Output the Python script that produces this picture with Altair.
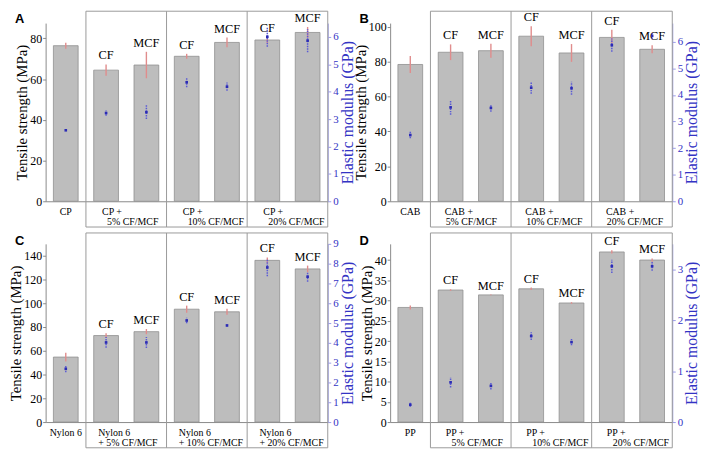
import altair as alt
import pandas as pd

# ---------------- data ----------------
GROUP_EDGES = [0.5, 2.5, 4.5, 6.5]
FIBRES = ["", "CF", "MCF", "CF", "MCF", "CF", "MCF"]

# Panel A (CP)
a_strength = [76.4, 64.4, 66.9, 71.2, 78.0, 79.2, 82.9]
a_strength_err = [1.5, 2.8, 6.5, 1.2, 2.4, 1.5, 2.7]
a_modulus = [2.59, 3.22, 3.25, 4.34, 4.18, 6.0, 5.86]
a_modulus_err = [0.03, 0.1, 0.25, 0.18, 0.15, 0.36, 0.42]
a_base = "CP"
a_line1 = ["CP +", "CP +", "CP +"]
a_line2 = ["5% CF/MCF", "10% CF/MCF", "20% CF/MCF"]

# Panel B (CAB)
b_strength = [78.3, 85.3, 86.2, 94.5, 84.9, 93.8, 87.0]
b_strength_err = [4.9, 4.5, 4.0, 5.7, 5.1, 4.4, 2.3]
b_modulus = [2.49, 3.53, 3.51, 4.27, 4.25, 5.87, 6.22]
b_modulus_err = [0.12, 0.28, 0.14, 0.23, 0.24, 0.25, 0.13]
b_base = "CAB"
b_line1 = ["CAB +", "CAB +", "CAB +"]
b_line2 = ["5% CF/MCF", "10% CF/MCF", "20% CF/MCF"]

# Panel C (Nylon 6)
c_strength = [54.7, 72.8, 76.1, 95.0, 92.8, 136.1, 128.9]
c_strength_err = [3.7, 2.0, 2.2, 3.0, 2.5, 2.5, 2.8]
c_modulus = [2.69, 4.02, 4.02, 5.13, 4.88, 7.81, 7.34]
c_modulus_err = [0.18, 0.27, 0.28, 0.14, 0.05, 0.44, 0.25]
c_base = "Nylon 6"
c_line1 = ["Nylon 6", "Nylon 6", "Nylon 6"]
c_line2 = ["+ 5% CF/MCF", "+ 10% CF/MCF", "+ 20% CF/MCF"]

# Panel D (PP)
d_strength = [28.3, 32.6, 31.4, 32.9, 29.4, 42.0, 40.0]
d_strength_err = [0.5, 0.2, 0.1, 0.3, 0.2, 0.4, 0.4]
d_modulus = [0.34, 0.78, 0.71, 1.69, 1.57, 3.06, 3.06]
d_modulus_err = [0.04, 0.1, 0.07, 0.08, 0.06, 0.13, 0.09]
d_base = "PP"
d_line1 = ["PP +", "PP +", "PP +"]
d_line2 = ["5% CF/MCF", "10% CF/MCF", "20% CF/MCF"]

# ---------------- style ----------------
SERIF = "Liberation Serif"
BAR = "#bdbdbd"
BAR_STROKE = "#8f8f8f"
GRAY = "#8a8a8a"
FRAME = "#9a9a9a"
RED = "#e08c8c"
BLUE_ERR = "#5a5ad6"
BLUE_PT = "#2b2bb5"
BLUE_TXT = "#3333c4"
BLUE_AXIS = "#9c9ce8"

W = 285
H = 180


def panel(letter, s, se, m, me, base, line1, line2, ldom, lticks, rdom, rticks,
          box_top, dx1, dx2):
    h = H
    df = pd.DataFrame({"i": list(range(len(s))), "name": FIBRES, "s": s, "se": se,
                       "m": m, "me": me})
    df["s_lo"] = df["s"] - df["se"]
    df["s_hi"] = df["s"] + df["se"]
    df["m_lo"] = df["m"] - df["me"]
    df["m_hi"] = df["m"] + df["me"]

    xs = alt.Scale(domain=[-0.5, 6.5], nice=False, zero=False, padding=0)
    ly = alt.Scale(domain=ldom, nice=False, zero=True)
    ry = alt.Scale(domain=rdom, nice=False, zero=True)

    x_axis = alt.Axis(labels=False, ticks=False, grid=False, domainColor=GRAY,
                      title=None)
    left_axis = alt.Axis(
        values=lticks, title="Tensile strength (MPa)", titleFont=SERIF,
        titleFontSize=15, titleFontWeight="normal", titleColor="black",
        labelFont=SERIF, labelFontSize=12, labelColor="black", tickColor=GRAY,
        tickSize=3, domainColor=GRAY, grid=False, labelPadding=1, titlePadding=0)
    right_axis = alt.Axis(
        orient="right", values=rticks, format="d", title="Elastic modulus (GPa)",
        titleFont=SERIF, titleFontSize=16, titleFontWeight="normal",
        titleColor=BLUE_TXT, titleAngle=270, titleBaseline="top",
        labelFont=SERIF, labelFontSize=11, labelColor=BLUE_TXT,
        tickColor=BLUE_AXIS, tickSize=3, domainColor=BLUE_AXIS, grid=False,
        labelPadding=2, titlePadding=1)

    def X(f):
        return alt.X(f"{f}:Q", scale=xs, axis=x_axis)

    def YL(f):
        return alt.Y(f"{f}:Q", scale=ly, axis=left_axis)

    def YR(f):
        return alt.Y(f"{f}:Q", scale=ry, axis=right_axis)

    c = alt.Chart(df)
    bars = c.mark_bar(orient="vertical", size=25, fill=BAR, stroke=BAR_STROKE,
                      strokeWidth=0.8).encode(x=X("i"), y=YL("s"))
    rerr = c.mark_rule(color=RED, strokeWidth=1.4).encode(
        x=X("i"), y=YL("s_lo"), y2="s_hi:Q")
    fib = c.transform_filter("datum.i > 0").mark_text(
        baseline="bottom", dy=-2, font=SERIF, fontSize=12.5, color="black").encode(
        x=X("i"), y=YL("s_hi"), text="name:N")

    edges = alt.Chart(pd.DataFrame({"b": GROUP_EDGES}))
    vlines = edges.mark_rule(color=FRAME, strokeWidth=1).encode(
        x=X("b"), y=alt.value(box_top), y2=alt.value(h + 26))
    span = alt.Chart(pd.DataFrame({"x0": [GROUP_EDGES[0]], "x1": [GROUP_EDGES[-1]]}))
    top = span.mark_rule(color=FRAME, strokeWidth=1).encode(
        x=X("x0"), x2="x1:Q", y=alt.value(box_top))
    bottom = span.mark_rule(color=FRAME, strokeWidth=1).encode(
        x=X("x0"), x2="x1:Q", y=alt.value(h + 26))

    base_lab = alt.Chart(pd.DataFrame({"i": [0], "t": [base]})).mark_text(
        font=SERIF, fontSize=10, color="black", align="center", baseline="alphabetic").encode(
        x=X("i"), y=alt.value(h + 14), text="t:N")
    l1 = alt.Chart(pd.DataFrame({"i": [1, 3, 5], "t": line1})).mark_text(
        font=SERIF, fontSize=10, color="black", align="left", baseline="alphabetic",
        dx=dx1).encode(x=X("i"), y=alt.value(h + 14), text="t:N")
    l2 = alt.Chart(pd.DataFrame({"i": [1, 3, 5], "t": line2})).mark_text(
        font=SERIF, fontSize=10, color="black", align="left", baseline="alphabetic",
        dx=dx2).encode(x=X("i"), y=alt.value(h + 24), text="t:N")

    let = alt.Chart(pd.DataFrame({"t": [letter]})).mark_text(
        font="Liberation Sans", fontSize=13, fontWeight="bold", color="black",
        align="left", baseline="top").encode(
        x=alt.value(-31), y=alt.value(box_top + 2), text="t:N")

    c2 = alt.Chart(df)
    berr = c2.mark_rule(color=BLUE_ERR, strokeWidth=1.5, strokeDash=[1.5, 1]).encode(
        x=X("i"), y=YR("m_lo"), y2="m_hi:Q")
    bpts = c2.mark_square(size=7, color=BLUE_PT, opacity=1).encode(
        x=X("i"), y=YR("m"))

    left = alt.layer(bars, rerr, fib, vlines, top, bottom, base_lab, l1, l2, let)
    right = alt.layer(berr, bpts)
    return alt.layer(left, right).resolve_scale(y="independent").properties(
        width=W, height=h)


pA = panel("A", a_strength, a_strength_err, a_modulus, a_modulus_err, a_base, a_line1,
           a_line2, [0, 87.5], [0, 20, 40, 60, 80], [0, 6.5], [0, 1, 2, 3, 4, 5, 6],
           -12, -4, 1)
pB = panel("B", b_strength, b_strength_err, b_modulus, b_modulus_err, b_base, b_line1,
           b_line2, [0, 102], [0, 20, 40, 60, 80, 100], [0, 6.7], [0, 1, 2, 3, 4, 5, 6],
           -12, -6, -5)
pC = panel("C", c_strength, c_strength_err, c_modulus, c_modulus_err, c_base, c_line1,
           c_line2, [0, 150], [0, 20, 40, 60, 80, 100, 120, 140], [0, 9],
           [0, 1, 2, 3, 4, 5, 6, 7, 8, 9], -11, -8, -8)
pD = panel("D", d_strength, d_strength_err, d_modulus, d_modulus_err, d_base, d_line1,
           d_line2, [0, 44], [0, 5, 10, 15, 20, 25, 30, 35, 40], [0, 3.5], [0, 1, 2, 3],
           -11, -5, 1)

chart = alt.concat(pA, pB, pC, pD, columns=2, bounds="flush",
                   spacing=alt.RowColnumber(row=43, column=63)).properties(
    padding={"left": 0, "top": 0, "right": 0, "bottom": 0}
).configure_view(stroke="transparent").configure_axis(
    labelFont=SERIF, titleFont=SERIF, titleFontWeight="normal", grid=False)

chart.save("out.html", embed_options={"renderer": "svg", "actions": False})
